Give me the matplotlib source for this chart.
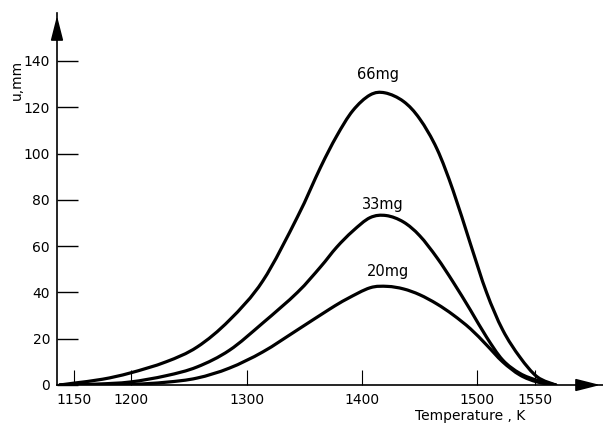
import matplotlib
matplotlib.use("Agg")
import matplotlib.pyplot as plt
import numpy as np
from matplotlib.path import Path
from matplotlib.patches import PathPatch

# curves: temperature (K) vs u (mm)
temp_66 = [1138, 1150, 1175, 1199, 1230, 1257, 1285, 1314, 1344, 1364, 1378, 1392,
           1407, 1420, 1436, 1450, 1465, 1479, 1494, 1508, 1522, 1537, 1552, 1568]
u_66 = [0, 0.8, 2.5, 5.2, 10, 16.4, 28, 45, 72.6, 94, 107.5, 118.5,
        125.3, 126.2, 122.5, 115, 102, 84, 61, 40, 23.8, 12, 3.5, 0]

temp_33 = [1138, 1170, 1199, 1230, 1257, 1285, 1314, 1344, 1364, 1378, 1392, 1407,
           1421, 1436, 1450, 1465, 1479, 1494, 1508, 1522, 1537, 1552, 1568]
u_33 = [0, 0.4, 1.3, 4, 7.8, 15, 26.8, 40, 51, 59.5, 66.5, 72.3,
        73.2, 70.4, 64.5, 55, 44.5, 32.4, 20.7, 10.8, 5, 2, 0]

temp_20 = [1138, 1199, 1230, 1257, 1285, 1314, 1344, 1372, 1387, 1407, 1422, 1436,
           1450, 1465, 1479, 1494, 1508, 1522, 1537, 1552, 1568]
u_20 = [0, 0.3, 1.2, 3, 7.3, 14.3, 23.8, 32.8, 37.2, 42, 42.6, 41.5,
        39, 35, 30.3, 24.3, 17.3, 10, 4.3, 1.3, 0]

labels = ["66mg", "33mg", "20mg"]
label_pos = [(1414, 134), (1418, 78), (1422.5, 49)]

xticks = [1150, 1200, 1300, 1400, 1500, 1550]
yticks = [0, 20, 40, 60, 80, 100, 120, 140]


def smooth_path(x, y):
    # draw the read points joined by cubic bezier pieces (catmull-rom style)
    p = np.column_stack([x, y]).astype(float)
    verts = [p[0]]
    codes = [Path.MOVETO]
    n = len(p)
    for i in range(n - 1):
        p0 = p[max(i - 1, 0)]
        p3 = p[min(i + 2, n - 1)]
        c1 = p[i] + (p[i + 1] - p0) / 6.0
        c2 = p[i + 1] - (p3 - p[i]) / 6.0
        c1[1] = max(c1[1], 0)
        c2[1] = max(c2[1], 0)
        verts += [c1, c2, p[i + 1]]
        codes += [Path.CURVE4] * 3
    return Path(verts, codes)


fig = plt.figure(figsize=(6.03, 4.30), dpi=100)
ax = fig.add_axes([57 / 603, 45 / 430, 546 / 603, 372 / 430])

for t, u in [(temp_66, u_66), (temp_33, u_33), (temp_20, u_20)]:
    ax.add_patch(PathPatch(smooth_path(t, u), facecolor="none", edgecolor="black",
                           lw=2.3, capstyle="round"))

for txt, (x, y) in zip(labels, label_pos):
    ax.text(x, y, txt, ha="center", va="center", fontsize=10.5)

ax.set_xlim(1135.5, 1609)
ax.set_ylim(0, 160.7)
ax.set_xticks(xticks)
ax.set_yticks(yticks)
ax.tick_params(axis="x", direction="in", length=11, width=0.8, labelsize=10, pad=6)
ax.tick_params(axis="y", direction="in", length=15, width=1.0, labelsize=10, pad=5)

for s in ["top", "right"]:
    ax.spines[s].set_visible(False)
for s in ["left", "bottom"]:
    ax.spines[s].set_linewidth(1.2)

# arrow heads on the axes
arrow = dict(arrowstyle="-|>,head_length=1.5,head_width=0.38",
             color="black", lw=1.2, mutation_scale=10)
ax.annotate("", xy=(1.0, 0), xytext=(0.96, 0), xycoords="axes fraction", arrowprops=arrow)
ax.annotate("", xy=(0, 1.0), xytext=(0, 0.94), xycoords="axes fraction", arrowprops=arrow)

fig.text(17 / 603, 1 - 80 / 430, "u,mm", rotation=90, ha="center", va="center", fontsize=10)
fig.text(470 / 603, 1 - 416 / 430, "Temperature , K", ha="center", va="center", fontsize=10)

fig.savefig("out.png", dpi=100)
